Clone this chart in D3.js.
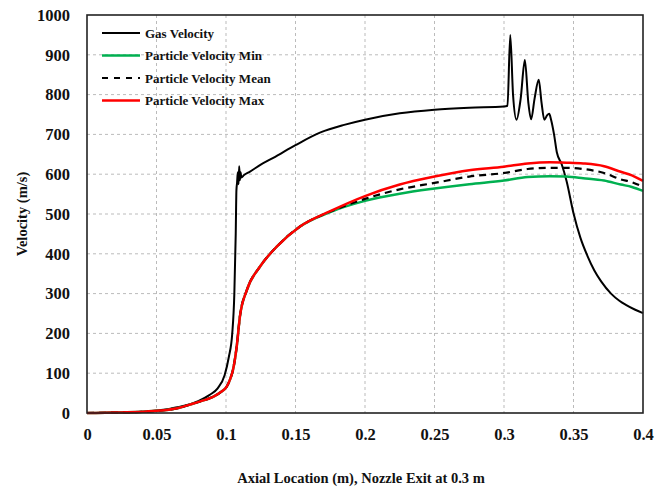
<!DOCTYPE html>
<html lang="en">
<head>
  <meta charset="UTF-8">
  <title>velocity</title>
  <script src="https://cdn.jsdelivr.net/npm/d3@7"></script>
  <style>
    body { margin: 0; background: #fff; }
    text { font-family: "Liberation Serif", "Times New Roman", serif; font-weight: bold; fill: #111; }
  </style>
</head>
<body>
<svg id="chart" width="655" height="489"></svg>
<script>
  // gas velocity along the axis
  const gasX = [0, 0.02, 0.04, 0.05, 0.06, 0.07, 0.08, 0.088, 0.094, 0.099, 0.102, 0.1045, 0.106, 0.107, 0.1075,
    0.108, 0.1085, 0.109, 0.1095, 0.110, 0.1105, 0.111, 0.113, 0.117, 0.125, 0.134, 0.15, 0.168, 0.185, 0.2,
    0.225, 0.25, 0.275, 0.3, 0.3025, 0.3045, 0.3065, 0.309, 0.312, 0.315, 0.3175, 0.3195, 0.322, 0.325, 0.327,
    0.329, 0.331, 0.3325, 0.334, 0.336, 0.338, 0.3415, 0.345, 0.35, 0.355, 0.36, 0.365, 0.37, 0.377, 0.383,
    0.388, 0.394, 0.4];
  const gasV = [0, 1, 3, 6, 11, 18, 30, 45, 62, 95, 140, 200, 300, 450, 560,
    580, 605, 575, 620, 585, 605, 592, 598, 606, 624, 641, 673, 705, 724, 737,
    753, 762, 767, 770, 772, 950, 800, 737, 790, 887, 780, 738, 790, 837, 780,
    737, 748, 752, 735, 700, 655, 625, 583, 502, 440, 395, 358, 330, 300, 282,
    271, 260, 251];

  // particle velocity (min / mean / max)
  const partX = [0, 0.02, 0.04, 0.0525, 0.065, 0.0765, 0.085, 0.091, 0.096, 0.1005, 0.103, 0.105, 0.1077, 0.11,
    0.115, 0.1245, 0.1365, 0.153, 0.175, 0.2, 0.225, 0.25, 0.275, 0.3, 0.317, 0.333, 0.345, 0.357, 0.372, 0.384,
    0.392, 0.4];
  const partMax = [0, 1, 3, 6, 12, 24, 33, 41, 52, 66, 85, 108, 167, 242,
    309, 368, 418, 468, 507, 545, 574, 594, 610, 619, 627, 630, 629, 627, 620, 606,
    597, 583];
  const partMean = [0, 1, 3, 6, 12, 24, 33, 41, 52, 66, 85, 108, 167, 242,
    309, 368, 418, 468, 506, 538, 562, 578, 594, 603, 613, 616, 616, 613, 603, 587,
    580, 568];
  const partMin = [0, 1, 3, 6, 12, 24, 33, 41, 52, 66, 85, 108, 167, 242,
    309, 368, 418, 468, 505, 533, 551, 564, 575, 584, 593, 595, 594, 590, 584, 574,
    568, 558];

  const xTicks = [0, 0.05, 0.1, 0.15, 0.2, 0.25, 0.3, 0.35, 0.4];
  const yTicks = [0, 100, 200, 300, 400, 500, 600, 700, 800, 900, 1000];

  const series = [
    {name: 'Gas Velocity', xs: gasX, ys: gasV, color: '#000', width: 2, dash: null},
    {name: 'Particle Velocity Min', xs: partX, ys: partMin, color: '#00b050', width: 2.5, dash: null},
    {name: 'Particle Velocity Mean', xs: partX, ys: partMean, color: '#000', width: 2.2, dash: '7,5'},
    {name: 'Particle Velocity Max', xs: partX, ys: partMax, color: '#ff0000', width: 2.5, dash: null}
  ];

  const pl = 87, pr = 643, pt = 15, pb = 413;
  const svg = d3.select('#chart');
  const x = d3.scaleLinear().domain([0, 0.4]).range([pl, pr]);
  const y = d3.scaleLinear().domain([0, 1000]).range([pb, pt]);

  // grid
  svg.append('g')
    .selectAll('line')
    .data(xTicks.slice(1, -1))
    .join('line')
    .attr('x1', d => x(d)).attr('x2', d => x(d))
    .attr('y1', pt).attr('y2', pb)
    .attr('stroke', '#bbb').attr('stroke-dasharray', '3,3');
  svg.append('g')
    .selectAll('line')
    .data(yTicks.slice(1, -1))
    .join('line')
    .attr('x1', pl).attr('x2', pr)
    .attr('y1', d => y(d)).attr('y2', d => y(d))
    .attr('stroke', '#bbb').attr('stroke-dasharray', '3,3');

  // axes
  const xAxis = svg.append('g')
    .attr('transform', `translate(0,${pb})`)
    .call(d3.axisBottom(x).tickValues(xTicks).tickSize(0).tickPadding(15).tickFormat(d => d3.format('~g')(d)));
  xAxis.select('.domain').remove();
  xAxis.selectAll('text').style('font-size', '16.5px');

  const yAxis = svg.append('g')
    .attr('transform', `translate(${pl},0)`)
    .call(d3.axisLeft(y).tickValues(yTicks).tickSize(0).tickPadding(17).tickFormat(d3.format('d')));
  yAxis.select('.domain').remove();
  yAxis.selectAll('text').style('font-size', '16.5px');

  // lines
  const line = d3.line().curve(d3.curveMonotoneX);
  series.forEach(s => {
    svg.append('path')
      .attr('d', line(s.xs.map((v, i) => [x(v), y(s.ys[i])])))
      .attr('fill', 'none')
      .attr('stroke', s.color)
      .attr('stroke-width', s.width)
      .attr('stroke-dasharray', s.dash)
      .attr('stroke-linejoin', 'round');
  });

  // frame
  svg.append('rect')
    .attr('x', pl).attr('y', pt)
    .attr('width', pr - pl).attr('height', pb - pt)
    .attr('fill', 'none').attr('stroke', '#222').attr('stroke-width', 1.6);

  // legend
  const legend = svg.append('g');
  series.forEach((s, i) => {
    const ly = 33 + i * 22.5;
    legend.append('line')
      .attr('x1', 102).attr('x2', 140)
      .attr('y1', ly).attr('y2', ly)
      .attr('stroke', s.color)
      .attr('stroke-width', s.width)
      .attr('stroke-dasharray', s.dash ? '6,6' : null);
    legend.append('text')
      .attr('x', 145).attr('y', ly)
      .attr('dy', '0.35em')
      .style('font-size', '13px')
      .text(s.name);
  });

  // titles
  svg.append('text')
    .attr('x', 361).attr('y', 483)
    .attr('text-anchor', 'middle')
    .style('font-size', '14.5px')
    .text('Axial Location (m), Nozzle Exit at 0.3 m');
  svg.append('text')
    .attr('transform', `translate(27,${(pt + pb) / 2}) rotate(-90)`)
    .attr('text-anchor', 'middle')
    .style('font-size', '14.5px')
    .text('Velocity (m/s)');
</script>
</body>
</html>
